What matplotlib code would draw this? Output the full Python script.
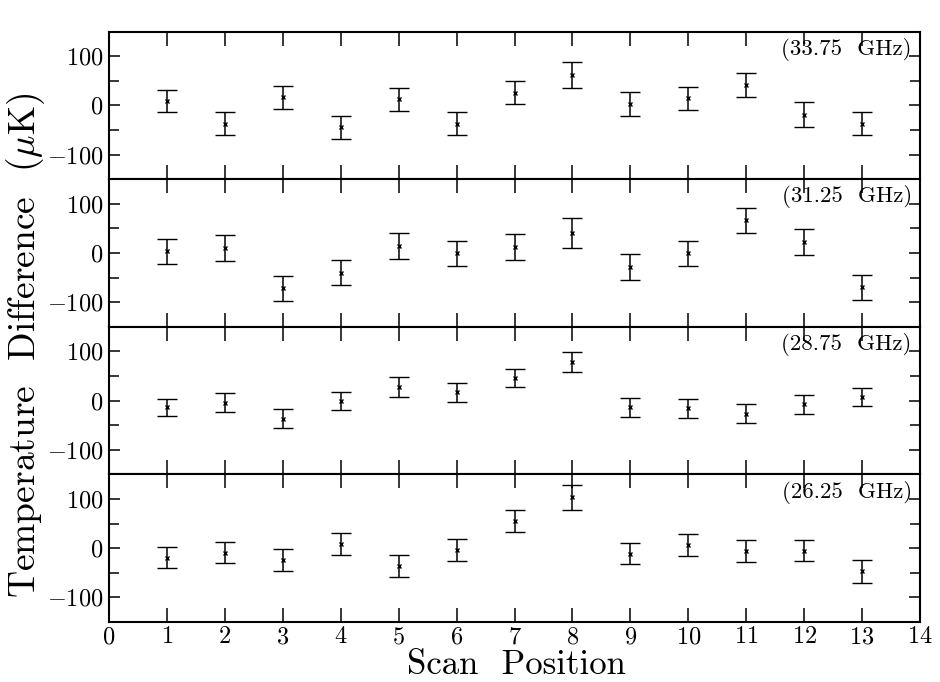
'''
four frequency channels of temperature difference vs scan position,
stacked panels sharing one x axis
'''

import numpy as np
import matplotlib.pyplot as plt

plt.rcParams['font.family'] = ['cmr10', 'DejaVu Serif']
plt.rcParams['mathtext.fontset'] = 'cm'
plt.rcParams['axes.unicode_minus'] = False
plt.rcParams['axes.formatter.use_mathtext'] = True

positions = np.arange(1, 14)

labels = ['(33.75  GHz)', '(31.25  GHz)', '(28.75  GHz)', '(26.25  GHz)']

# values, in uK
val_3375 = [9, -37, 16, -45, 12, -37, 26, 62, 3, 14, 41, -19, -37]
err_3375 = [23, 24, 24, 24, 24, 24, 24, 27, 25, 24, 24, 25, 24]

val_3125 = [3, 10, -72, -40, 14, -1, 12, 41, -28, -1, 66, 22, -70]
err_3125 = [25, 27, 26, 26, 27, 26, 27, 30, 26, 26, 26, 26, 26]

val_2875 = [-14, -4, -37, -1, 27, 17, 46, 79, -14, -16, -27, -8, 7]
err_2875 = [18, 19, 19, 19, 20, 19, 19, 20, 19, 19, 19, 19, 19]

val_2625 = [-19, -9, -24, 9, -36, -4, 55, 103, -11, 6, -6, -5, -47]
err_2625 = [21, 22, 22, 22, 22, 23, 23, 25, 22, 22, 22, 22, 23]

values = [val_3375, val_3125, val_2875, val_2625]
errors = [err_3375, err_3125, err_2875, err_2625]

fig, axes = plt.subplots(4, 1, sharex=True, figsize=(9.4, 6.82), dpi=100,
                         gridspec_kw={'hspace': 0})
fig.subplots_adjust(left=0.116, right=0.9787, top=0.9538, bottom=0.088)

for ax, val, err, lab in zip(axes, values, errors, labels):
    ax.errorbar(positions, val, yerr=err, fmt='x', color='black',
                markersize=3, markeredgewidth=1, elinewidth=1.1,
                capsize=7.5, capthick=1.5)
    ax.set_xlim(0, 14)
    ax.set_ylim(-150, 150)
    ax.set_yticks([-100, 0, 100])
    ax.set_yticks([-50, 50], minor=True)
    ax.set_xticks(range(0, 15))
    ax.tick_params(which='both', direction='in', top=True, right=True,
                   labelsize=17.5, width=1.1)
    ax.tick_params(axis='x', which='major', length=10, pad=3)
    ax.tick_params(axis='y', which='major', length=8, pad=4)
    ax.tick_params(axis='y', which='minor', length=7)
    for s in ax.spines.values():
        s.set_linewidth(1.5)
    ax.text(0.99, 0.88, lab, transform=ax.transAxes, ha='right',
            va='center', fontsize=16.5)

fig.text(0.027, 0.494, r'Temperature  Difference  ($\mu$K)', rotation=90,
         ha='center', va='center', fontsize=27)
fig.text(0.549, 0.011, 'Scan  Position', ha='center', va='baseline',
         fontsize=25)

fig.savefig('out.png', dpi=100)
